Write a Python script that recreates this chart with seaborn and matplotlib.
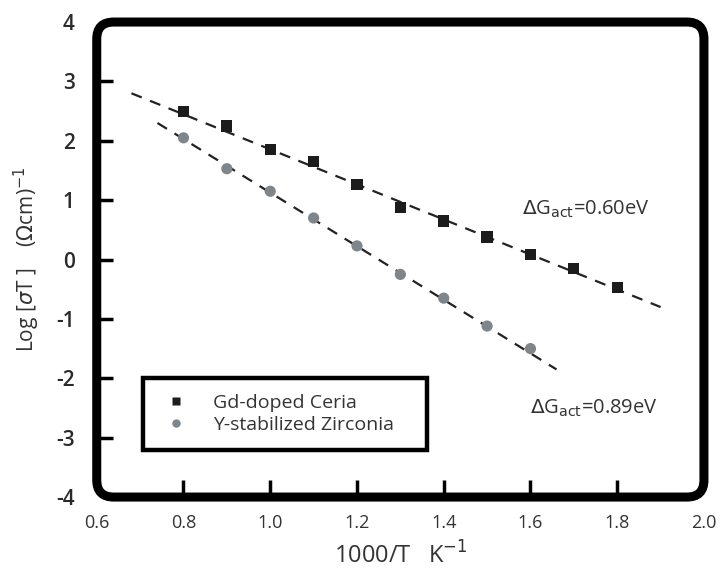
import numpy as np
import pandas as pd
import matplotlib
matplotlib.use('Agg')
import matplotlib.pyplot as plt
import seaborn as sns
from matplotlib.patches import FancyBboxPatch, Rectangle

# data
inv_t = [0.8, 0.9, 1.0, 1.1, 1.2, 1.3, 1.4, 1.5, 1.6, 1.7, 1.8]
ceria = [2.50, 2.25, 1.85, 1.65, 1.27, 0.88, 0.65, 0.38, 0.08, -0.15, -0.47]
inv_t_ysz = [0.8, 0.9, 1.0, 1.1, 1.2, 1.3, 1.4, 1.5, 1.6]
zirconia = [2.05, 1.53, 1.15, 0.70, 0.23, -0.25, -0.65, -1.12, -1.50]

# dashed fit lines (end points)
fit_ceria_x = [0.68, 1.90]
fit_ceria_y = [2.80, -0.80]
fit_ysz_x = [0.74, 1.66]
fit_ysz_y = [2.30, -1.85]

labels = ['Gd-doped Ceria', 'Y-stabilized Zirconia']
xticks = [0.6, 0.8, 1.0, 1.2, 1.4, 1.6, 1.8, 2.0]
yticks = [-4, -3, -2, -1, 0, 1, 2, 3, 4]

sns.set_style('white')
plt.rcParams['font.family'] = ['Open Sans', 'DejaVu Sans']
plt.rcParams['axes.unicode_minus'] = False

df = pd.concat([
    pd.DataFrame({'x': inv_t, 'y': ceria, 'mat': labels[0]}),
    pd.DataFrame({'x': inv_t_ysz, 'y': zirconia, 'mat': labels[1]}),
])

fig = plt.figure(figsize=(7.22, 5.8), dpi=100)
ax = fig.add_axes([0.134, 0.143, 0.841, 0.819])

sns.lineplot(x=fit_ceria_x, y=fit_ceria_y, ax=ax, color='#222222', lw=1.6,
             linestyle=(0, (5, 4)), legend=False)
sns.lineplot(x=fit_ysz_x, y=fit_ysz_y, ax=ax, color='#222222', lw=1.6,
             linestyle=(0, (5, 4)), legend=False)
sns.scatterplot(data=df, x='x', y='y', hue='mat', style='mat',
                palette=['#1c1c1c', '#7e868c'], markers=['s', 'o'],
                s=65, edgecolor='none', ax=ax, zorder=3)

ax.set_xlim(xticks[0], xticks[-1])
ax.set_ylim(yticks[0], yticks[-1])
ax.set_xticks(xticks)
ax.set_xticklabels([f'{v:.1f}' for v in xticks])
ax.set_yticks(yticks)
for s in ax.spines.values():
    s.set_visible(False)
ax.tick_params(axis='x', length=0, labelsize=13, pad=12, labelcolor='#333333')
ax.tick_params(axis='y', length=0, labelsize=15, pad=16, labelcolor='#2a2a2a')
for t in ax.get_yticklabels():
    t.set_fontweight('semibold')

# inward tick marks (interior ones only; corners are rounded)
for v in xticks[1:-1]:
    ax.plot([v, v], [0, 0.036], transform=ax.get_xaxis_transform(),
            color='black', lw=2.5, solid_capstyle='butt', clip_on=False, zorder=5)
for v in yticks[1:-1]:
    ax.plot([0, 0.026], [v, v], transform=ax.get_yaxis_transform(),
            color='black', lw=2.5, solid_capstyle='butt', clip_on=False, zorder=5)

# rounded frame
w_px, h_px = 607, 475
frame = FancyBboxPatch((0, 0), 1, 1, boxstyle='round,pad=0,rounding_size=0.028',
                       mutation_aspect=w_px / h_px, transform=ax.transAxes,
                       fill=False, lw=6.5, edgecolor='black', clip_on=False, zorder=5)
ax.add_patch(frame)

ax.set_xlabel('1000/T   K$^{-1}$', fontsize=17, color='#333333', labelpad=8)
ax.set_ylabel('Log [$\\sigma$T ]    ($\\Omega$cm)$^{-1}$', fontsize=15, color='#333333',
              labelpad=10)

ax.text(1.58, 0.85, '$\\Delta$G$_{\\rm act}$=0.60eV', fontsize=14.5, color='#333333',
        va='center')
ax.text(1.598, -2.5, '$\\Delta$G$_{\\rm act}$=0.89eV', fontsize=14.5, color='#333333',
        va='center')

# legend box drawn separately, legend itself frameless
ax.add_patch(Rectangle((0.0758, 0.099), 0.468, 0.1515, transform=ax.transAxes,
                       fill=True, facecolor='white', edgecolor='black', lw=3.2,
                       zorder=4))
leg = ax.legend(loc='center left', bbox_to_anchor=(0.098, 0.1745), fontsize=14,
                frameon=False, handletextpad=0.9, labelspacing=0.2,
                markerscale=0.75, borderaxespad=0, borderpad=0)
leg.set_zorder(6)
for t in leg.get_texts():
    t.set_color('#333333')

fig.savefig('out.png', dpi=100)
